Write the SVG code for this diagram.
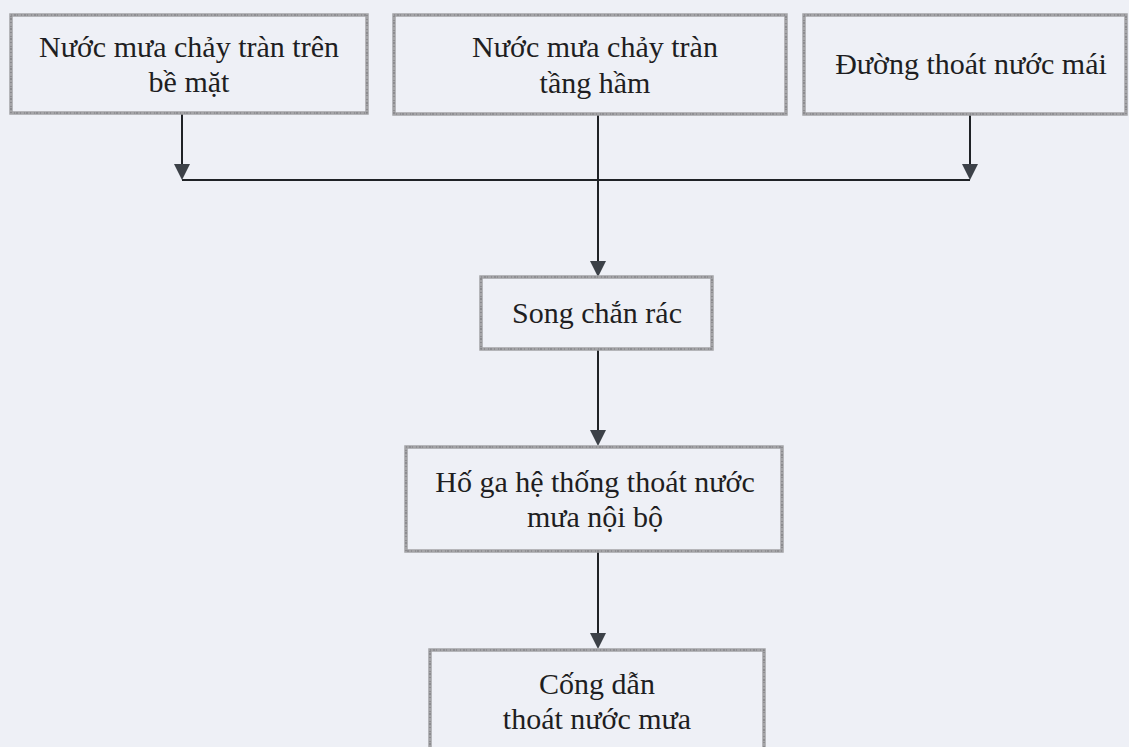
<svg xmlns="http://www.w3.org/2000/svg" width="1129" height="747" viewBox="0 0 1129 747">
  <defs>
    <style>
      .box { fill: none; stroke: #a3a3a6; stroke-width: 3.5; }
      .grain { fill: none; stroke: #7d7d80; stroke-width: 1.2; stroke-dasharray: 1 2 2 1 1 3; }
      .label { font-family: "Liberation Serif", "Times New Roman", serif; font-size: 30px; fill: #1e1e22; text-anchor: middle; }
      .wire { fill: none; stroke: #1f2226; stroke-width: 2; }
      .head { fill: #3c4148; }
    </style>
  </defs>

  <rect width="1129" height="747" fill="#eef0f6"/>

  <!-- connectors -->
  <g id="connectors">
    <line class="wire" x1="182" y1="180" x2="970" y2="180"/>
    <path class="wire" d="M182,114 V164"/>
    <path class="head" d="M174,164 L190,164 L182,180 Z"/>
    <path class="wire" d="M970,114 V164"/>
    <path class="head" d="M962,164 L978,164 L970,180 Z"/>
    <path class="wire" d="M598,114 V261"/>
    <path class="head" d="M590,261 L606,261 L598,277 Z"/>
    <path class="wire" d="M598,350 V430"/>
    <path class="head" d="M590,430 L606,430 L598,446 Z"/>
    <path class="wire" d="M598,552 V633"/>
    <path class="head" d="M590,633 L606,633 L598,649 Z"/>
  </g>

  <!-- top sources -->
  <g id="node-surface">
    <rect class="box" x="11" y="15" width="356" height="98"/>
    <rect class="grain" x="11" y="15" width="356" height="98"/>
    <text class="label" x="189" y="57">Nước mưa chảy tràn trên</text>
    <text class="label" x="189" y="92">bề mặt</text>
  </g>

  <g id="node-basement">
    <rect class="box" x="394" y="15" width="392" height="99"/>
    <rect class="grain" x="394" y="15" width="392" height="99"/>
    <text class="label" x="595" y="57">Nước mưa chảy tràn</text>
    <text class="label" x="595" y="93">tầng hầm</text>
  </g>

  <g id="node-roof">
    <rect class="box" x="804" y="15" width="322" height="99"/>
    <rect class="grain" x="804" y="15" width="322" height="99"/>
    <text class="label" x="971" y="74">Đường thoát nước mái</text>
  </g>

  <!-- treatment chain -->
  <g id="node-screen">
    <rect class="box" x="481" y="277" width="231" height="72"/>
    <rect class="grain" x="481" y="277" width="231" height="72"/>
    <text class="label" x="597" y="323">Song chắn rác</text>
  </g>

  <g id="node-manhole">
    <rect class="box" x="406" y="447" width="376" height="104"/>
    <rect class="grain" x="406" y="447" width="376" height="104"/>
    <text class="label" x="595" y="492">Hố ga hệ thống thoát nước</text>
    <text class="label" x="595" y="527">mưa nội bộ</text>
  </g>

  <g id="node-culvert">
    <rect class="box" x="430" y="650" width="334" height="110"/>
    <rect class="grain" x="430" y="650" width="334" height="110"/>
    <text class="label" x="597" y="694">Cống dẫn</text>
    <text class="label" x="597" y="729">thoát nước mưa</text>
  </g>
</svg>
